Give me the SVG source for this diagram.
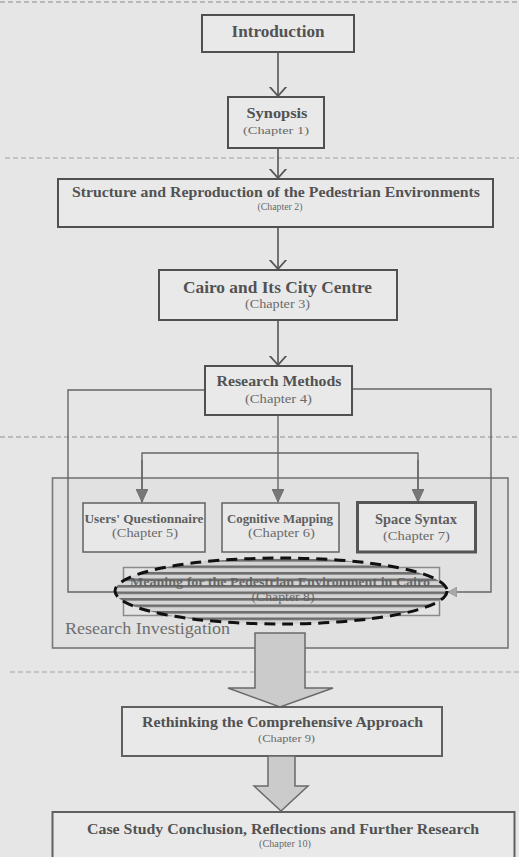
<svg xmlns="http://www.w3.org/2000/svg" width="519" height="857" viewBox="0 0 519 857">
  <defs>
    <style>
      .bg { fill: #e6e6e6; }
      .rule { stroke: #a0a0a0; stroke-width: 1; stroke-dasharray: 5 3; fill: none; }
      .box { fill: #e9e9e9; stroke: #505050; stroke-width: 2; }
      .sub { fill: #e8e8e8; stroke: #6a6a6a; stroke-width: 1.6; }
      .thick { fill: #e8e8e8; stroke: #555; stroke-width: 3; }
      .title { font-family: "Liberation Serif", "Times New Roman", serif; font-weight: bold; fill: #525252; text-anchor: middle; }
      .chap { font-family: "Liberation Serif", "Times New Roman", serif; fill: #6a6a6a; text-anchor: middle; }
      .label { font-family: "Liberation Serif", "Times New Roman", serif; fill: #6e6e6e; }
      .wire { stroke: #555; stroke-width: 1.6; fill: none; }
      .wire2 { stroke: #666; stroke-width: 1.4; fill: none; }
      .block { fill: #cbcbcb; stroke: #6a6a6a; stroke-width: 1.5; }
    </style>
    <!-- open chevron head used along the main chain -->
    <marker id="vee" viewBox="0 0 10 18" refX="9.5" refY="9" markerWidth="10" markerHeight="18" markerUnits="userSpaceOnUse" orient="auto">
      <path d="M0,0.5 L9.5,9 L0,17.5" fill="none" stroke="#555" stroke-width="1.8"/>
    </marker>
    <!-- solid grey head for the method branches -->
    <marker id="tri" viewBox="0 0 13 12" refX="13" refY="6" markerWidth="13" markerHeight="12" markerUnits="userSpaceOnUse" orient="auto">
      <path d="M0,0 L13,6 L0,12 Z" fill="#777" stroke="#666" stroke-width="0.8"/>
    </marker>
    <marker id="triSmall" viewBox="0 0 9 10" refX="9" refY="5" markerWidth="9" markerHeight="10" markerUnits="userSpaceOnUse" orient="auto">
      <path d="M0,0 L9,5 L0,10 Z" fill="#a8a8a8" stroke="#888" stroke-width="0.6"/>
    </marker>
    <!-- horizontal hatching inside the highlighted chapter -->
    <pattern id="stripes" width="10" height="6.5" patternUnits="userSpaceOnUse" y="0">
      <rect x="0" y="0" width="10" height="2.6" fill="#5c5c5c"/>
    </pattern>
    <clipPath id="ovalClip">
      <ellipse cx="281" cy="591" rx="166" ry="33"/>
    </clipPath>
  </defs>

  <rect class="bg" x="0" y="0" width="519" height="857"/>

  <!-- faint ruled lines of the page -->
  <g id="page-rules">
    <line class="rule" x1="0" y1="2" x2="519" y2="2" style="stroke:#8a8a8a"/>
    <line class="rule" x1="5" y1="158" x2="519" y2="158"/>
    <line class="rule" x1="0" y1="437" x2="519" y2="437" style="stroke:#8f8f8f"/>
    <line class="rule" x1="10" y1="672" x2="519" y2="672"/>
  </g>

  <!-- investigation frame -->
  <g id="research-investigation">
    <rect x="52.5" y="478" width="455.5" height="170" fill="#e1e1e1" stroke="#777" stroke-width="1.6"/>
    <text class="label" x="65" y="634" font-size="17.5" textLength="165" lengthAdjust="spacingAndGlyphs">Research Investigation</text>
  </g>

  <!-- connectors -->
  <g id="connectors">
    <line class="wire" x1="278" y1="52" x2="278" y2="96" marker-end="url(#vee)"/>
    <line class="wire" x1="278" y1="148" x2="278" y2="178" marker-end="url(#vee)"/>
    <line class="wire" x1="278" y1="227" x2="278" y2="269" marker-end="url(#vee)"/>
    <line class="wire" x1="278" y1="320" x2="278" y2="365" marker-end="url(#vee)"/>
    <!-- research methods to the three studies -->
    <line class="wire2" x1="278" y1="415" x2="278" y2="502" marker-end="url(#tri)"/>
    <polyline class="wire2" points="142,502 142,453 418,453 418,502"/>
    <line class="wire2" x1="142" y1="460" x2="142" y2="502" marker-end="url(#tri)"/>
    <line class="wire2" x1="418" y1="460" x2="418" y2="502" marker-end="url(#tri)"/>
    <!-- side loops into the highlighted chapter -->
    <polyline class="wire2" points="205,390 68,390 68,592 116,592"/>
    <polyline class="wire2" points="352,389 491,389 491,592 448,592" marker-end="url(#triSmall)"/>
  </g>

  <g id="introduction">
    <rect class="box" x="202" y="15" width="152" height="37"/>
    <text class="title" x="278" y="37" font-size="16" textLength="93" lengthAdjust="spacingAndGlyphs">Introduction</text>
  </g>

  <g id="synopsis">
    <rect class="box" x="228" y="97" width="96" height="51"/>
    <text class="title" x="277" y="118" font-size="15.5" textLength="61" lengthAdjust="spacingAndGlyphs">Synopsis</text>
    <text class="chap" x="276" y="133.5" font-size="11" textLength="66" lengthAdjust="spacingAndGlyphs">(Chapter 1)</text>
  </g>

  <g id="structure">
    <rect class="box" x="58" y="179" width="435" height="48"/>
    <text class="title" x="276" y="197" font-size="14.5" textLength="408" lengthAdjust="spacingAndGlyphs">Structure and Reproduction of the Pedestrian Environments</text>
    <text class="chap" x="280" y="210" font-size="10" textLength="45" lengthAdjust="spacingAndGlyphs">(Chapter 2)</text>
  </g>

  <g id="cairo">
    <rect class="box" x="159" y="270" width="238" height="50"/>
    <text class="title" x="277.5" y="293" font-size="16.5" textLength="189" lengthAdjust="spacingAndGlyphs">Cairo and Its City Centre</text>
    <text class="chap" x="277.5" y="308" font-size="12" textLength="65" lengthAdjust="spacingAndGlyphs">(Chapter 3)</text>
  </g>

  <g id="research-methods">
    <rect class="box" x="205" y="366" width="147" height="49"/>
    <text class="title" x="279" y="386" font-size="15.5" textLength="125" lengthAdjust="spacingAndGlyphs">Research Methods</text>
    <text class="chap" x="278.5" y="403" font-size="12" textLength="67" lengthAdjust="spacingAndGlyphs">(Chapter 4)</text>
  </g>

  <g id="questionnaire">
    <rect class="sub" x="83" y="503" width="122" height="49"/>
    <text class="title" x="144" y="523" font-size="13" textLength="119" lengthAdjust="spacingAndGlyphs" style="fill:#5e5e5e">Users' Questionnaire</text>
    <text class="chap" x="145" y="536.5" font-size="12" textLength="66" lengthAdjust="spacingAndGlyphs">(Chapter 5)</text>
  </g>

  <g id="cognitive-mapping">
    <rect class="sub" x="222" y="503" width="117" height="49"/>
    <text class="title" x="280" y="523" font-size="13" textLength="106" lengthAdjust="spacingAndGlyphs" style="fill:#5e5e5e">Cognitive Mapping</text>
    <text class="chap" x="281.5" y="536.5" font-size="12" textLength="67" lengthAdjust="spacingAndGlyphs">(Chapter 6)</text>
  </g>

  <g id="space-syntax">
    <rect class="thick" x="357.5" y="502.5" width="118" height="49.5"/>
    <text class="title" x="416" y="524" font-size="14" textLength="82" lengthAdjust="spacingAndGlyphs" style="fill:#5e5e5e">Space Syntax</text>
    <text class="chap" x="416.5" y="540" font-size="12" textLength="67" lengthAdjust="spacingAndGlyphs">(Chapter 7)</text>
  </g>

  <g id="pedestrian-meaning">
    <rect x="123.5" y="567.5" width="316" height="48" fill="#e4e4e4" stroke="#8a8a8a" stroke-width="1.5"/>
    <ellipse cx="281" cy="591" rx="166" ry="33" fill="#d4d4d4"/>
    <text class="title" x="280" y="586" font-size="12.5" textLength="300" lengthAdjust="spacingAndGlyphs" style="fill:#6a6a6a">Meaning for the Pedestrian Environment in Cairo</text>
    <text class="chap" x="283" y="601" font-size="12" textLength="63" lengthAdjust="spacingAndGlyphs">(Chapter 8)</text>
    <rect x="114" y="557" width="334" height="68" fill="url(#stripes)" opacity="0.85" clip-path="url(#ovalClip)"/>
    <ellipse cx="281" cy="591" rx="166" ry="33" fill="none" stroke="#111" stroke-width="3" stroke-dasharray="11 7"/>
  </g>

  <!-- broad arrow out of the investigation frame -->
  <g id="to-rethinking">
    <polygon class="block" points="255,633 305,633 305,688 333,688 280,707 228,688 255,688"/>
  </g>

  <g id="rethinking">
    <rect class="box" x="122" y="707" width="320" height="49" style="stroke:#606060"/>
    <text class="title" x="282.5" y="727" font-size="15.5" textLength="281" lengthAdjust="spacingAndGlyphs">Rethinking the Comprehensive Approach</text>
    <text class="chap" x="286.5" y="742" font-size="11" textLength="57" lengthAdjust="spacingAndGlyphs">(Chapter 9)</text>
  </g>

  <g id="to-conclusion">
    <polygon class="block" points="268,756 295,756 295,786 308,786 281,811 254,786 268,786"/>
  </g>

  <g id="conclusion">
    <rect class="box" x="52.5" y="812" width="462" height="60" style="stroke:#606060"/>
    <text class="title" x="283" y="834" font-size="15.5" textLength="392" lengthAdjust="spacingAndGlyphs">Case Study Conclusion, Reflections and Further Research</text>
    <text class="chap" x="285" y="847" font-size="11" textLength="52" lengthAdjust="spacingAndGlyphs">(Chapter 10)</text>
  </g>
</svg>
